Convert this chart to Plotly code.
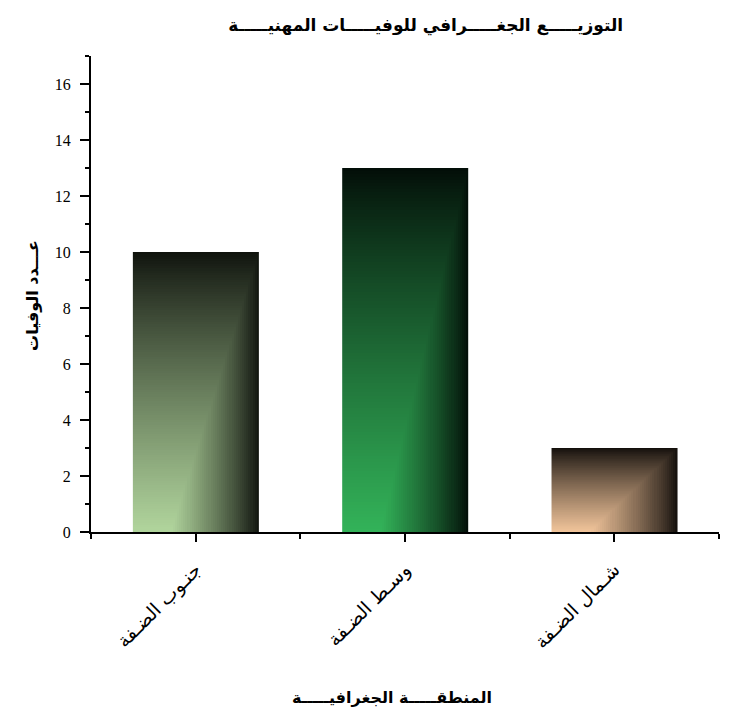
import numpy as np
import plotly.graph_objects as go

categories = ["جنـوب الضـفة", "وسـط الضـفة", "شـمال الضـفة"]
deaths = [10, 13, 3]
light_colors = ["#b1d59d", "#33b359", "#f2c59b"]
dark_colors = ["#0e110c", "#020c07", "#120e0b"]
y_ticks = [0, 2, 4, 6, 8, 10, 12, 14, 16]

title_text = "التوزيـــــع الجغـــــرافي للوفيـــــات المهنيـــــة"
x_title = "المنطقـــــة الجغرافيـــــة"
y_title = "عـــدد الوفيات"

bar_width = 0.6
fig = go.Figure()

nx, ny = 60, 120
for i, (cat, val) in enumerate(zip(categories, deaths)):
    xe = np.linspace(i - bar_width / 2, i + bar_width / 2, nx + 1)
    ye = np.linspace(0, val, ny + 1)
    xn = (np.arange(nx) + 0.5) / nx
    yn = (np.arange(ny) + 0.5) / ny
    XN, YN = np.meshgrid(xn, yn)
    t = np.clip(np.minimum(1 - YN, (1 - XN) / 0.7), 0, 1) ** 0.85
    fig.add_trace(go.Heatmap(
        x=xe, y=ye, z=t, zmin=0, zmax=1,
        colorscale=[[0, dark_colors[i]], [1, light_colors[i]]],
        showscale=False, hoverinfo="skip",
    ))

fig.add_trace(go.Bar(
    x=list(range(len(categories))), y=deaths, width=bar_width,
    marker=dict(color="rgba(0,0,0,0)", line=dict(width=0)),
    hovertext=categories, showlegend=False,
))

fig.update_layout(
    width=750, height=724,
    paper_bgcolor="white", plot_bgcolor="white",
    margin=dict(l=83, r=39, t=48, b=200, autoexpand=False),
    title=dict(text="<b>" + title_text + "</b>", x=0.557, xanchor="center",
               y=0.9765, yanchor="middle",
               font=dict(family="DejaVu Sans", size=17, color="black")),
    showlegend=False,
    annotations=[
        dict(text="<b>" + x_title + "</b>", xref="paper", yref="paper",
             x=0.479, y=-0.347, xanchor="center", yanchor="middle",
             showarrow=False,
             font=dict(family="DejaVu Sans", size=16, color="black")),
        dict(text="<b>" + y_title + "</b>", xref="paper", yref="paper",
             x=-0.0924, y=0.498, xanchor="center", yanchor="middle",
             textangle=-90, showarrow=False,
             font=dict(family="DejaVu Sans", size=16, color="black")),
    ],
)

fig.update_xaxes(
    range=[-0.5, 2.5], tickmode="array",
    tickvals=list(range(len(categories))), ticktext=categories,
    tickangle=-45, ticks="outside", ticklen=8, tickwidth=2, tickcolor="black",
    ticklabelstandoff=9,
    minor=dict(ticks="outside", ticklen=5, tickwidth=2, tickcolor="black",
               tick0=-0.5, dtick=1),
    showline=True, linewidth=2, linecolor="black", showgrid=False, zeroline=False,
    tickfont=dict(family="DejaVu Sans", size=19, color="black"),
    automargin=False,
)
fig.update_yaxes(
    range=[0, 17], tickmode="array", tickvals=y_ticks,
    ticks="outside", ticklen=9, tickwidth=2, tickcolor="black",
    ticklabelstandoff=6,
    minor=dict(ticks="outside", ticklen=4, tickwidth=2, tickcolor="black",
               tick0=1, dtick=2),
    showline=True, linewidth=2, linecolor="black", showgrid=False, zeroline=False,
    tickfont=dict(family="Liberation Serif", size=16, color="black"),
    automargin=False,
)

fig.write_html("out.html")
